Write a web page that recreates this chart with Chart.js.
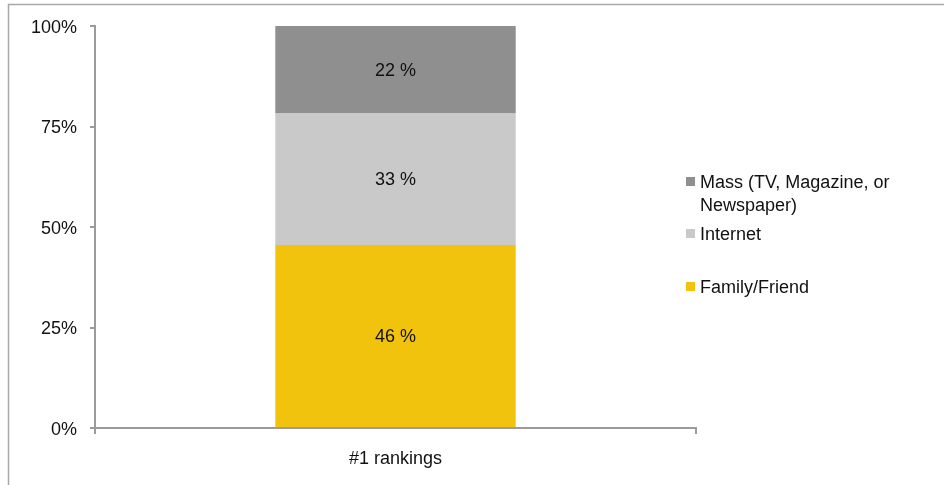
<!DOCTYPE html>
<html>
<head>
<meta charset="utf-8">
<script src="https://cdn.jsdelivr.net/npm/chart.js@4/dist/chart.umd.min.js"></script>
<style>
  html, body { margin: 0; padding: 0; background: #fff; }
  #wrap { width: 944px; height: 485px; }
</style>
</head>
<body>
<div id="wrap"><canvas id="rankChart" width="944" height="485"></canvas></div>
<script>
const categories = ['#1 rankings'];
const familyFriend = [46];
const internet = [33];
const massMedia = [22];
const yTicks = [0, 25, 50, 75, 100];

const FONT = "'Liberation Sans', Arial, Helvetica, sans-serif";
const AXIS = '#9b9b9b';

// 100% stacking: each segment is its share of the column total
const totals = categories.map((_, i) => familyFriend[i] + internet[i] + massMedia[i]);
const share = arr => arr.map((v, i) => v / totals[i] * 100);

const series = [
  { label: 'Family/Friend', raw: familyFriend, color: '#f2c30d' },
  { label: 'Internet', raw: internet, color: '#c9c9c9' },
  { label: 'Mass (TV, Magazine, or\nNewspaper)', raw: massMedia, color: '#8f8f8f' }
];

// thin outer frame around the chart
const framePlugin = {
  id: 'frame',
  beforeDraw(chart) {
    const c = chart.ctx;
    c.save();
    c.strokeStyle = '#a8a8a8';
    c.lineWidth = 1.5;
    c.strokeRect(8.5, 4.5, 2000, 2000);
    c.restore();
  }
};

// value text centred inside each segment
const valueLabels = {
  id: 'valueLabels',
  afterDatasetsDraw(chart) {
    const c = chart.ctx;
    c.save();
    c.font = '18px ' + FONT;
    c.fillStyle = '#111';
    c.textAlign = 'center';
    c.textBaseline = 'middle';
    chart.data.datasets.forEach((ds, di) => {
      chart.getDatasetMeta(di).data.forEach((bar, i) => {
        const p = bar.getCenterPoint();
        c.fillText(ds.raw[i] + ' %', p.x, p.y + 1);
      });
    });
    c.restore();
  }
};

// legend on the right, top entry first
const sideLegend = {
  id: 'sideLegend',
  afterDraw(chart) {
    const c = chart.ctx;
    const rows = [182, 234, 287];
    const x = chart.chartArea.right - 10;
    c.save();
    c.font = '18px ' + FONT;
    c.textBaseline = 'middle';
    c.textAlign = 'left';
    const order = chart.data.datasets.slice().reverse();
    order.forEach((ds, k) => {
      const y = rows[k];
      c.fillStyle = ds.backgroundColor;
      c.fillRect(x, y - 5, 9, 9);
      c.fillStyle = '#111';
      ds.label.split('\n').forEach((line, j) => {
        c.fillText(line, x + 14, y + 1 + j * 23);
      });
    });
    c.restore();
  }
};

new Chart(document.getElementById('rankChart'), {
  type: 'bar',
  data: {
    labels: categories,
    datasets: series.map(s => ({
      label: s.label,
      raw: s.raw,
      data: share(s.raw),
      backgroundColor: s.color,
      borderWidth: 0,
      barPercentage: 0.4,
      categoryPercentage: 1
    }))
  },
  options: {
    responsive: false,
    animation: false,
    layout: { padding: { top: 26, right: 248, left: 0, bottom: 0 } },
    plugins: { legend: { display: false }, tooltip: { enabled: false } },
    scales: {
      x: {
        stacked: true,
        grid: { drawOnChartArea: false, drawTicks: true, tickLength: 6, color: AXIS, lineWidth: 2 },
        border: { display: true, color: AXIS, width: 2 },
        ticks: { color: '#111', font: { family: FONT, size: 18 }, padding: 14 },
        afterFit(scale) { scale.height = 57; }
      },
      y: {
        stacked: true,
        min: 0,
        max: 100,
        afterBuildTicks(scale) { scale.ticks = yTicks.map(v => ({ value: v })); },
        grid: { drawOnChartArea: false, drawTicks: true, tickLength: 5, color: AXIS, lineWidth: 2 },
        border: { display: true, color: AXIS, width: 2 },
        ticks: { color: '#111', font: { family: FONT, size: 18 }, padding: 13, labelOffset: 2, callback: v => v + '%' },
        afterFit(scale) { scale.width = 95; }
      }
    }
  },
  plugins: [framePlugin, valueLabels, sideLegend]
});
</script>
</body>
</html>
